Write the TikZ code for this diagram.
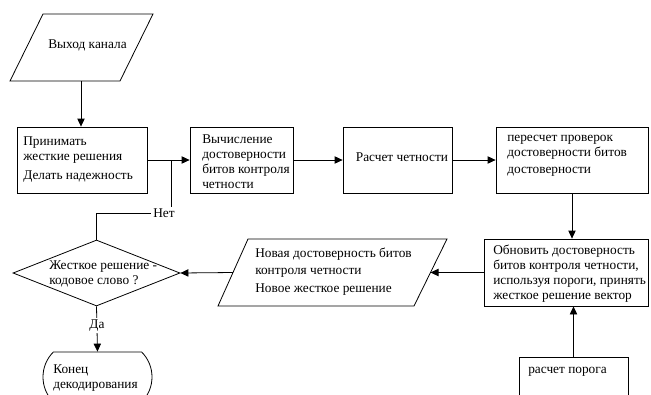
\documentclass[tikz,border=0pt]{standalone}
\usepackage{fontspec}
\setmainfont{Liberation Serif}
\usetikzlibrary{arrows.meta,shapes.geometric,shapes.misc,calc}
\begin{document}
\begin{tikzpicture}[x=0.75pt,y=-0.75pt,
  every node/.style={font=\fontsize{10}{11.25}\selectfont},
  shp/.style={draw, line width=0.6pt},
  box/.style={shp, rectangle, inner sep=0pt},
  arr/.style={line width=0.6pt, -{Triangle[length=6pt,width=5.5pt]}},
  ln/.style={line width=0.6pt},
  txt/.style={align=left, inner sep=0pt, anchor=west},
  lbl/.style={fill=white, inner sep=1.5pt}
]
\clip (0,0) rectangle (651,394);

% input parallelogram
\draw[shp] (43,14) -- (153,14) -- (120,81) -- (10,81) -- cycle;
\coordinate (inB) at (81,81);
\node[inner sep=0pt] (tin) at (87.5,45) {Выход канала};

% boxes
\node[box, minimum width=97.5pt, minimum height=49.5pt] (b1) at (82,160) {};
\node[txt] (t1) at (23,159.5) {Принимать\\жесткие решения\\[3.5pt]Делать надежность};

\node[box, minimum width=77.25pt, minimum height=49.5pt] (b2) at (241.5,160) {};
\node[txt] (t2) at (202,162) {Вычисление\\достоверности\\битов контроля\\четности};

\node[box, minimum width=81.75pt, minimum height=49.5pt] (b3) at (397.5,160) {};
\node[inner sep=0pt] (t3) at (402,157) {Расчет четности};

\node[box, minimum width=114pt, minimum height=49.5pt] (b4) at (572,160) {};
\node[txt] (t4) at (507,155.5) {пересчет проверок\\достоверности битов\\[1.5pt]достоверности};

\node[box, minimum width=123pt, minimum height=50.25pt] (b5) at (566,272.5) {};
\node[txt] (t5) at (493,274) {Обновить достоверность\\битов контроля четности,\\используя пороги, принять\\жесткое решение вектор};

\node[box, minimum width=81.75pt, minimum height=39pt] (b6) at (573.5,383) {};
\node[txt] (t6) at (528,372) {расчет порога};

% output parallelogram
\draw[shp] (248,239) -- (447,239) -- (414,306) -- (218,306) -- cycle;
\coordinate (outR) at (430.5,272.5);
\coordinate (outL) at (233,272.5);
\node[txt] (tout) at (255,271.5) {Новая достоверность битов\\[2pt]контроля четности\\[2pt]Новое жесткое решение};

% decision
\node[shp, diamond, minimum width=125.25pt, minimum height=49.5pt, inner sep=0pt] (dia) at (96.5,273) {};
\node[txt] (td) at (49,274) {Жесткое решение -\\кодовое слово ?};

% terminator
\node[shp, rounded rectangle, rounded rectangle arc length=90, minimum width=81.75pt, minimum height=37.5pt, inner sep=0pt] (term) at (97.5,377) {};
\node[txt] (tt) at (53,378) {Конец\\декодирования};

% connectors
\draw[arr] (inB) -- (inB |- b1.north);
\draw[arr] (b1.east) -- (b2.west);
\draw[arr] (b2.east) -- (b3.west);
\draw[arr] (b3.east) -- (b4.west);
\draw[arr] (b4.south) -- (b4.south |- b5.north);
\draw[arr] (b6.north) -- (b6.north |- b5.south);
\draw[arr] (b5.west) -- (outR);
\draw[arr] (outL) -- (dia.east);

\coordinate (br) at ($(b1.east)!0.56!(b2.west)$);
\coordinate (nc) at (br |- 0,213);
\draw[ln] (dia.north) |- (nc) -- (br);
\node[lbl] (net) at (164,213) {Нет};

\draw[arr] (dia.south) -- (term.north) node[lbl, pos=0.42] (da) {Да};
\end{tikzpicture}
\end{document}
